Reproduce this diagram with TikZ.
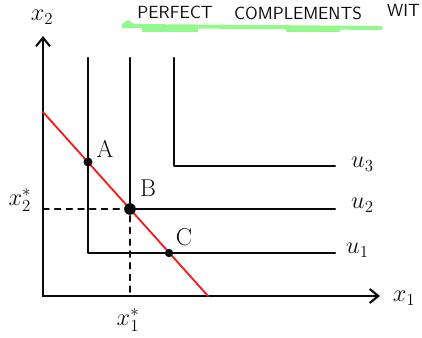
\documentclass[tikz,border=0pt]{standalone}
\usetikzlibrary{arrows.meta,patterns}
\definecolor{SketchInk}{gray}{0.04}
\definecolor{SketchRed}{rgb}{0.96,0.12,0.12}
\definecolor{SketchGreen}{rgb}{0.15,0.95,0.1}
\tikzset{
    sketch/diagram/.style={
        x=0.03cm, y=-0.03cm,
        draw=SketchInk,
        text=SketchInk,
        line width=1.8pt,
        line cap=round,
        line join=round
    },
    sketch/axis/.style={
        draw=SketchInk, line width=1.8pt,
        -{Straight Barb[length=2.6mm, width=4.2mm]}
    },
    sketch/curve/.style={draw=SketchInk, line width=1.8pt},
    sketch/budget/.style={draw=SketchRed, line width=1.6pt},
    sketch/guide/.style={
        draw=SketchInk, line width=1.5pt,
        dash pattern=on 5pt off 5pt
    },
    sketch/point/.style={circle, fill=SketchInk, draw=none, inner sep=0pt, minimum size=2.7mm},
    sketch/label/.style={font=\huge, inner sep=1pt},
    sketch/title/.style={font=\fontsize{15}{18}\selectfont\sffamily, inner sep=1pt},
    sketch/highlight/.style={fill=SketchGreen!50!white, draw=none}
}

\begin{document}
\begin{tikzpicture}[sketch/diagram]
    \useasboundingbox (0,0) rectangle (422,338);
    % title with its highlighter stroke
    \fill[sketch/highlight] (122,24) -- (128,20) -- (134,24) -- (382,26)
        -- (382,30) -- (122,28) -- cycle;
    \fill[sketch/highlight] (142,26) rectangle (198,32);
    \fill[sketch/highlight] (286,26) rectangle (340,32);
    \node[sketch/title] (perfect) at (175,12) {PERFECT};
    \node[sketch/title] (complements) at (298,13) {COMPLEMENTS};
    \node[sketch/title, anchor=west] (with) at (385,10) {WIT};
    % axes
    \coordinate (O) at (43,296);
    \coordinate (ytop) at (43,36);
    \coordinate (xend) at (380,296);
    \draw[sketch/axis] (O) -- (ytop);
    \draw[sketch/axis] (O) -- (xend);
    \node[sketch/label] (x2) at (42,17) {$x_2$};
    \node[sketch/label] (x1) at (404,298) {$x_1$};
    % L-shaped indifference curves
    \draw[sketch/curve] (88,58) -- (88,253) -- (335,253);
    \draw[sketch/curve] (130,58) -- (130,209) -- (335,209);
    \draw[sketch/curve] (174,58) -- (174,166) -- (335,166);
    \node[sketch/label, anchor=west] (u1) at (344,250) {$u_1$};
    \node[sketch/label, anchor=west] (u2) at (349,205) {$u_2$};
    \node[sketch/label, anchor=west] (u3) at (349,164) {$u_3$};
    % budget line
    \coordinate (bstart) at (43,112);
    \coordinate (bend) at (208,296);
    \draw[sketch/budget] (bstart) -- (bend);
    \node[sketch/point] (A) at (88,162) {};
    \node[sketch/point, minimum size=3.5mm] (B) at (130,209) {};
    \node[sketch/point, minimum size=2.5mm] (C) at (169,253) {};
    \node[sketch/label] (la) at (105,149) {A};
    \node[sketch/label] (lb) at (148,188) {B};
    \node[sketch/label] (lc) at (184,237) {C};
    % optimum bundle
    \coordinate (x2tick) at (43,209);
    \coordinate (x1tick) at (130,296);
    \draw[sketch/guide] (x2tick) -- (B);
    \draw[sketch/guide] (B) -- (x1tick);
    \node[sketch/label] (x2star) at (20,200) {$x_2^*$};
    \node[sketch/label] (x1star) at (128,320) {$x_1^*$};
\end{tikzpicture}
\end{document}
